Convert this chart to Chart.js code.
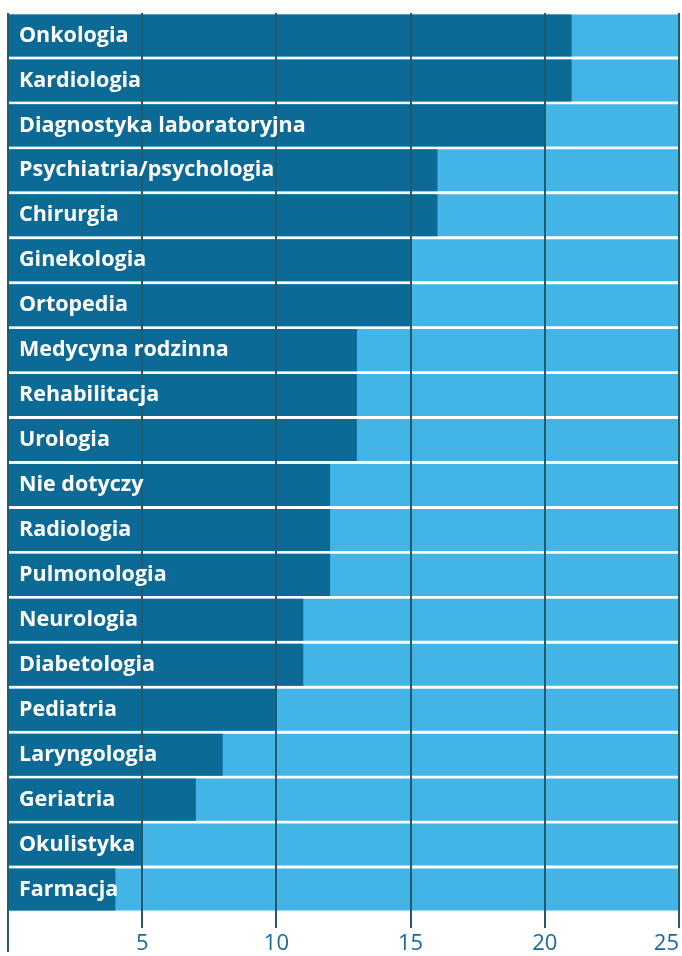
<!DOCTYPE html>
<html>
<head>
<meta charset="utf-8">
<script src="https://cdn.jsdelivr.net/npm/chart.js@4"></script>
<style>
	html, body { margin: 0; padding: 0; background: #ffffff; }
	#wrap { width: 682px; height: 956px; position: relative; }
</style>
</head>
<body>
<div id="wrap"><canvas id="canvas"></canvas></div>
<script>
const categories = [
	"Onkologia", "Kardiologia", "Diagnostyka laboratoryjna", "Psychiatria/psychologia",
	"Chirurgia", "Ginekologia", "Ortopedia", "Medycyna rodzinna", "Rehabilitacja",
	"Urologia", "Nie dotyczy", "Radiologia", "Pulmonologia", "Neurologia",
	"Diabetologia", "Pediatria", "Laryngologia", "Geriatria", "Okulistyka", "Farmacja",
];
const values = [21, 21, 20, 16, 16, 15, 15, 13, 13, 13, 12, 12, 12, 11, 11, 10, 8, 7, 5, 4];
const backgroundValues = categories.map(() => 25);
const xTicks = [0, 5, 10, 15, 20, 25];

const DARK = "#0b6a96";
const LIGHT = "#42b4e6";
const GRID = "#245a6e";

// white labels inside the bars + longer line at zero
const labelPlugin = {
	id: "barLabels",
	afterDraw(chart) {
		const ctx = chart.ctx;
		const area = chart.chartArea;
		const meta = chart.getDatasetMeta(0);
		ctx.save();
		ctx.fillStyle = "#ffffff";
		ctx.font = "bold 21.5px 'Open Sans'";
		ctx.textBaseline = "middle";
		meta.data.forEach((bar, i) => {
			ctx.fillText(categories[i], area.left + 11, bar.y);
		});
		const x0 = chart.scales.x.getPixelForValue(0);
		ctx.strokeStyle = GRID;
		ctx.lineWidth = 2;
		ctx.beginPath();
		ctx.moveTo(x0, area.bottom);
		ctx.lineTo(x0, 952);
		ctx.stroke();
		ctx.restore();
	},
};

window.onload = () => {
	const canvas = document.getElementById("canvas").getContext("2d");

	const config = {
		type: "bar",
		data: {
			labels: categories,
			datasets: [{
				data: values,
				backgroundColor: DARK,
				grouped: false,
				order: 0,
				barPercentage: 0.935,
				categoryPercentage: 1,
			}, {
				data: backgroundValues,
				backgroundColor: LIGHT,
				grouped: false,
				order: 1,
				barPercentage: 0.935,
				categoryPercentage: 1,
			}],
		},
		options: {
			indexAxis: "y",
			responsive: true,
			maintainAspectRatio: false,
			animation: false,
			layout: {
				padding: { left: 8, right: 1, top: 13, bottom: 0 },
			},
			plugins: {
				legend: { display: false },
				tooltip: { enabled: false },
			},
			scales: {
				x: {
					min: 0,
					max: 25,
					afterBuildTicks: (axis) => {
						axis.ticks = xTicks.map((v) => ({ value: v }));
					},
					afterFit: (axis) => {
						axis.height = 44;
					},
					border: { display: false },
					grid: {
						color: GRID,
						lineWidth: 2,
						tickLength: 16,
						drawTicks: true,
						z: 1,
					},
					ticks: {
						color: "#1a6a96",
						font: { family: "'Open Sans'", size: 22 },
						padding: 3,
						align: "inner",
						callback: (v) => (v === 0 ? "" : v),
					},
				},
				y: {
					display: false,
				},
			},
		},
		plugins: [labelPlugin],
	};

	new Chart(canvas, config);
};
</script>
</body>
</html>
